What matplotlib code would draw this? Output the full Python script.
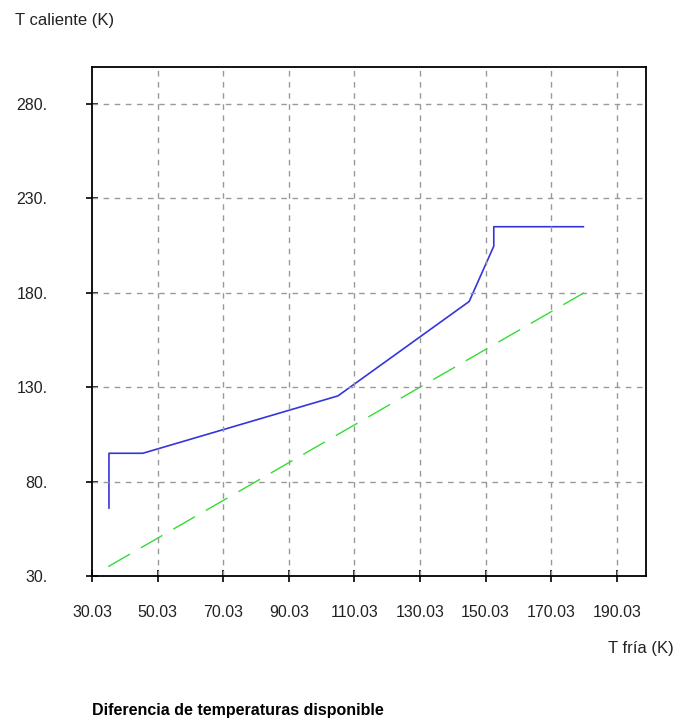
import matplotlib.pyplot as plt
import numpy as np

# curva caliente (T fria, T caliente) y linea de referencia T caliente = T fria
t_fria_cal = [35.2, 35.2, 45.5, 105.0, 145.0, 152.5, 152.5, 179.8]
t_cal = [66.0, 95.0, 95.0, 125.4, 175.4, 204.7, 215.0, 215.0]
t_fria_ref = [35.0, 180.0]
t_ref = [35.0, 180.0]

xticks = [30.03, 50.03, 70.03, 90.03, 110.03, 130.03, 150.03, 170.03, 190.03]
yticks = [30, 80, 130, 180, 230, 280]

plt.rcParams['font.family'] = ['Liberation Sans', 'DejaVu Sans']

fig = plt.figure(figsize=(6.77, 7.22), dpi=100)
ax = fig.add_axes([92/677, 146/722, 554/677, 509/722])

ax.plot(t_fria_cal, t_cal, color='#3535dc', lw=1.2)
ax.plot(t_fria_ref, t_ref, color='#33dd33', lw=1.0, dashes=(18, 9))

ax.set_xlim(30.03, 198.9)
ax.set_ylim(30, 299.6)
ax.set_xticks(xticks)
ax.set_xticklabels(['%.2f' % v for v in xticks])
ax.set_yticks(yticks)
ax.set_yticklabels(['%d.' % v for v in yticks])

ax.tick_params(axis='both', direction='inout', length=8, width=1.2,
               labelsize=11.5, labelcolor='#222222')
ax.tick_params(axis='x', pad=17)
ax.tick_params(axis='y', pad=28)

for v in xticks[1:]:
    ax.axvline(v, color='#999999', lw=1, dashes=(4, 4))
for v in yticks[1:]:
    ax.axhline(v, color='#999999', lw=1, dashes=(4, 4))

for s in ax.spines.values():
    s.set_linewidth(1.3)
    s.set_color('black')

fig.text(15/677, 1 - 20/722, 'T caliente (K)', fontsize=12, va='center', ha='left', color='#222222')
fig.text(608/677, 1 - 648/722, 'T fría (K)', fontsize=12, va='center', ha='left', color='#222222')
fig.text(92/677, 1 - 711/722, 'Diferencia de temperaturas disponible', fontsize=11.5,
         fontweight='bold', va='center', ha='left',
         family=['Liberation Sans Narrow', 'Liberation Sans', 'DejaVu Sans'])

fig.savefig('out.png', dpi=100)
